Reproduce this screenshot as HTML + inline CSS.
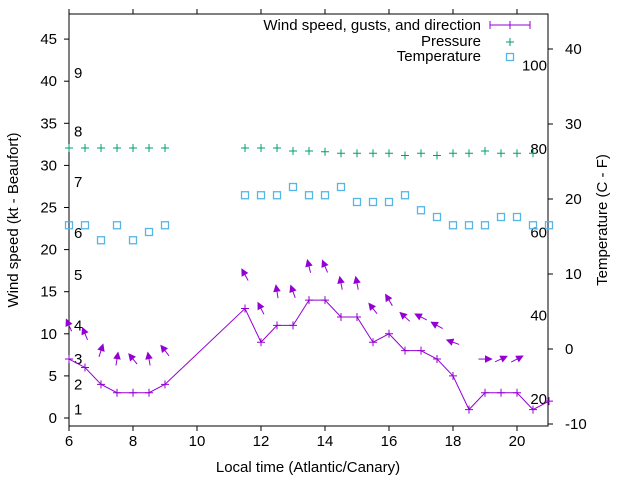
<!DOCTYPE html>
<html><head><meta charset="utf-8"><style>
body{margin:0;background:#fff}
svg{font-family:"Liberation Sans",sans-serif;font-size:15px}
</style></head><body>
<svg width="640" height="480" viewBox="0 0 640 480">
<g id="axes"></g><g id="marks"></g>
</svg>
<script>
const times=[6,6.5,7,7.5,8,8.5,9,11.5,12,12.5,13,13.5,14,14.5,15,15.5,16,16.5,17,17.5,18,18.5,19,19.5,20,20.5,21];
const windKt=[7,6,4,3,3,3,4,13,9,11,11,14,14,12,12,9,10,8,8,7,5,1,3,3,3,1,2];
const gustTimes=[6,6.5,7,7.5,8,8.5,9,11.5,12,12.5,13,13.5,14,14.5,15,15.5,16,16.5,17,17.5,18,19,19.5,20];
const gustKt=[11,10,8,7,7,7,8,17,13,15,15,18,18,16,16,13,14,12,12,11,9,7,7,7];
const gustDir=[336,337,18,9,321,350,322,331,333,351,340,346,337,349,349,322,329,312,297,299,290,90,65,62];
const pressTimes=[6,6.5,7,7.5,8,8.5,9,11.5,12,12.5,13,13.5,14,14.5,15,15.5,16,16.5,17,17.5,18,18.5,19,19.5,20,20.5];
const pressHpa=[1026.8,1026.8,1026.8,1026.8,1026.8,1026.8,1026.8,1026.8,1026.8,1026.8,1026.4,1026.4,1026.3,1026.1,1026.1,1026.1,1026.1,1025.8,1026.1,1025.8,1026.1,1026.1,1026.4,1026.1,1026.1,1026.1];
const tempC=[16.5,16.5,14.5,16.5,14.5,15.6,16.5,20.5,20.5,20.5,21.6,20.5,20.5,21.6,19.6,19.6,19.6,20.5,18.5,17.6,16.5,16.5,16.5,17.6,17.6,16.5,16.5];
const xTicks=[6,8,10,12,14,16,18,20];
const yTicks=[0,5,10,15,20,25,30,35,40,45];
const y2Ticks=[-10,0,10,20,30,40];
const fLabels=[20,40,60,80,100];
const bftLabels=[1,2,3,4,5,6,7,8,9];
const bftKt=[1,4,7,11,17,22,28,34,41];

const L=69,R=548,T=14,B=426;
const X=t=>L+(t-6)*32;
const Y=v=>418-v*8.42;
const Y2=c=>349-c*7.5;
const NS="http://www.w3.org/2000/svg";
const axes=document.getElementById('axes'),marks=document.getElementById('marks');
function el(tag,attrs,parent,txt){const e=document.createElementNS(NS,tag);for(const k in attrs)e.setAttribute(k,attrs[k]);if(txt!==undefined)e.textContent=txt;parent.appendChild(e);return e;}

let e;
e=el('rect',{x:L,y:T,width:R-L,height:B-T,fill:'none',stroke:'#000','stroke-width':1},axes);


xTicks.forEach(t=>{
  el('line',{x1:X(t),x2:X(t),y1:B,y2:B+5,stroke:'#000'},axes);
  el('line',{x1:X(t),x2:X(t),y1:T,y2:T-5,stroke:'#000'},axes);
  e=el('text',{x:X(t),y:B+20,'text-anchor':'middle'},axes,t);
  
  
});
yTicks.forEach(v=>{
  el('line',{x1:L-5,x2:L,y1:Y(v),y2:Y(v),stroke:'#000'},axes);
  e=el('text',{x:L-12,y:Y(v)+5,'text-anchor':'end'},axes,v);
  
  
});
y2Ticks.forEach(v=>{
  el('line',{x1:R,x2:R+5,y1:Y2(v),y2:Y2(v),stroke:'#000'},axes);
  e=el('text',{x:565,y:Y2(v)+5,'text-anchor':'start'},axes,v);
  
  
});
fLabels.forEach(f=>{
  e=el('text',{x:547,y:Y2((f-32)*5/9)+5,'text-anchor':'end'},axes,f);
  
  
});
bftLabels.forEach((b,i)=>{
  e=el('text',{x:74,y:Y(bftKt[i])+5},axes,b);
  
  
});
e=el('text',{x:308,y:472,'text-anchor':'middle'},axes,'Local time (Atlantic/Canary)');


e=el('text',{x:0,y:0,'text-anchor':'middle',transform:'translate(18,220) rotate(-90)'},axes,'Wind speed (kt - Beaufort)');


e=el('text',{x:0,y:0,'text-anchor':'middle',transform:'translate(607,220) rotate(-90)'},axes,'Temperature (C - F)');



const purple='#9400d3',green='#009e73',blue='#56b4e9';
function plus(x,y,c,p){el('path',{d:`M${x-4},${y}h8M${x},${y-4}v8`,stroke:c,'stroke-width':1},p);}
function square(x,y,p){el('rect',{x:x-3.5,y:y-3.5,width:7,height:7,fill:'none',stroke:blue,'stroke-width':1.3},p);}

// pressure
pressTimes.forEach((t,i)=>{
  const g=el('g',{},marks);
  
  
  plus(X(t),Y2(pressHpa[i]-1000),green,g);
});
// temperature
tempC.forEach((c,i)=>{
  const g=el('g',{},marks);
  
  
  square(X(times[i]),Y2(c),g);
});
// wind line
e=el('polyline',{points:times.map((t,i)=>X(t)+','+Y(windKt[i])).join(' '),fill:'none',stroke:purple,'stroke-width':1},marks);


times.forEach((t,i)=>{
  const g=el('g',{},marks);
  
  
  plus(X(t),Y(windKt[i]),purple,g);
});
// gust arrows
gustTimes.forEach((t,i)=>{
  const cx=X(t),cy=Y(gustKt[i]),a=gustDir[i]*Math.PI/180;
  const dx=Math.sin(a),dy=-Math.cos(a),h=6.5;
  const tx=cx+dx*h,ty=cy+dy*h,sx=cx-dx*h,sy=cy-dy*h;
  const px=-dy,py=dx;
  const g=el('g',{},marks);
  
  
  el('line',{x1:sx,y1:sy,x2:tx,y2:ty,stroke:purple,'stroke-width':1},g);
  const bx=tx-dx*6,by=ty-dy*6;
  el('polygon',{points:`${tx},${ty} ${bx+px*3},${by+py*3} ${bx-px*3},${by-py*3}`,fill:purple,stroke:purple},g);
});

// legend
const lg=el('g',{},axes);


el('text',{x:481,y:30,'text-anchor':'end'},lg,'Wind speed, gusts, and direction');
el('line',{x1:490,x2:530,y1:25,y2:25,stroke:purple},lg);
el('line',{x1:490,x2:490,y1:21,y2:29,stroke:purple},lg);
el('line',{x1:530,x2:530,y1:21,y2:29,stroke:purple},lg);
plus(510,25,purple,lg);
el('text',{x:481,y:46,'text-anchor':'end'},lg,'Pressure');
plus(510,42,green,lg);
el('text',{x:481,y:61,'text-anchor':'end'},lg,'Temperature');
square(510,57,lg);
</script>
</body></html>
